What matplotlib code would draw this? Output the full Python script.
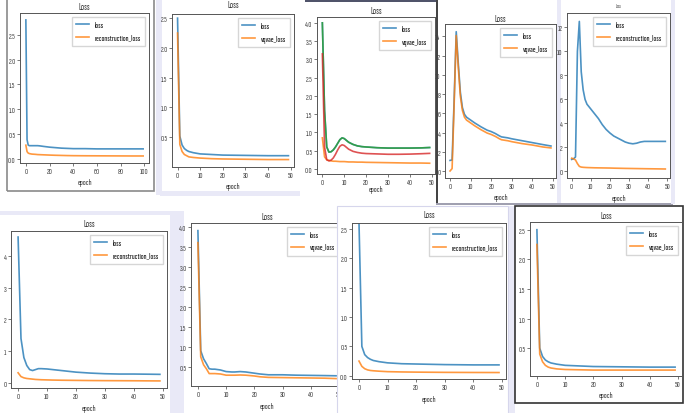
import matplotlib
matplotlib.use("Agg")
import matplotlib.pyplot as plt
from matplotlib.patches import Rectangle

plt.rcParams['font.family'] = ['Sofia Sans Extra Condensed', 'DejaVu Sans']

W, H = 685, 414

# ---------------- data ----------------
# top row
ep1 = [0, 1, 2, 3, 5, 8, 10, 12, 15, 20, 25, 30, 35, 40, 50, 60, 70, 80, 90, 99]
loss1 = [2.80, 0.38, 0.27, 0.26, 0.26, 0.26, 0.26, 0.255, 0.245, 0.23, 0.22, 0.21, 0.205, 0.20, 0.20, 0.195, 0.195, 0.195, 0.195, 0.195]
recon1 = [0.27, 0.14, 0.11, 0.10, 0.09, 0.085, 0.08, 0.078, 0.075, 0.07, 0.066, 0.063, 0.06, 0.058, 0.056, 0.055, 0.054, 0.053, 0.052, 0.052]

ep2 = [0, 1, 2, 3, 4, 5, 7, 10, 15, 20, 30, 40, 49]
loss2 = [2.50, 0.52, 0.37, 0.31, 0.28, 0.26, 0.24, 0.22, 0.21, 0.20, 0.195, 0.19, 0.19]
vq2 = [2.25, 0.38, 0.26, 0.21, 0.19, 0.17, 0.16, 0.15, 0.14, 0.135, 0.13, 0.125, 0.125]

ep3 = [0, 1, 2, 3, 4, 5, 6, 7, 8, 9, 10, 11, 12, 14, 16, 18, 20, 25, 30, 35, 40, 45, 49]
green3 = [4.0, 1.6, 0.6, 0.46, 0.47, 0.52, 0.6, 0.7, 0.8, 0.85, 0.83, 0.78, 0.73, 0.67, 0.63, 0.61, 0.6, 0.58, 0.57, 0.57, 0.57, 0.575, 0.585]
red3 = [3.15, 0.6, 0.25, 0.22, 0.24, 0.3, 0.4, 0.52, 0.62, 0.66, 0.64, 0.59, 0.54, 0.48, 0.45, 0.43, 0.42, 0.41, 0.40, 0.40, 0.405, 0.415, 0.425]
orange3 = [0.85, 0.33, 0.25, 0.23, 0.22, 0.21, 0.21, 0.205, 0.2, 0.2, 0.2, 0.195, 0.19, 0.19, 0.185, 0.185, 0.18, 0.175, 0.17, 0.165, 0.16, 0.16, 0.155]

ep4 = [0, 1, 2, 3, 4, 5, 6, 7, 8, 10, 12, 15, 18, 20, 22, 24, 25, 28, 30, 35, 40, 45, 49]
loss4 = [1.1, 1.15, 7.5, 14.5, 11.2, 8.2, 6.6, 5.9, 5.6, 5.3, 5.0, 4.6, 4.25, 4.1, 3.9, 3.65, 3.55, 3.45, 3.35, 3.15, 2.95, 2.75, 2.6]
vq4 = [0.0, 0.25, 7.0, 14.1, 10.8, 7.8, 6.3, 5.6, 5.3, 5.0, 4.7, 4.3, 3.95, 3.8, 3.6, 3.35, 3.25, 3.15, 3.05, 2.85, 2.7, 2.5, 2.4]

ep5 = [0, 1, 2, 3, 4, 5, 6, 7, 8, 10, 12, 14, 16, 18, 20, 22, 25, 28, 30, 32, 34, 36, 38, 40, 45, 49]
loss5 = [1.0, 1.05, 1.2, 10.0, 12.5, 8.3, 6.8, 6.0, 5.6, 5.2, 4.8, 4.4, 3.9, 3.5, 3.2, 2.95, 2.7, 2.45, 2.35, 2.3, 2.35, 2.45, 2.5, 2.5, 2.5, 2.5]
recon5 = [1.1, 1.05, 0.95, 0.65, 0.42, 0.36, 0.34, 0.33, 0.32, 0.31, 0.3, 0.295, 0.29, 0.285, 0.28, 0.27, 0.26, 0.25, 0.245, 0.24, 0.235, 0.23, 0.225, 0.22, 0.21, 0.2]

# bottom row
ep6 = [0, 1, 2, 3, 4, 5, 6, 7, 8, 10, 12, 15, 18, 20, 25, 30, 35, 40, 45, 49]
loss6 = [4.6, 1.4, 0.8, 0.55, 0.42, 0.39, 0.42, 0.45, 0.45, 0.44, 0.42, 0.39, 0.36, 0.34, 0.31, 0.29, 0.28, 0.28, 0.275, 0.27]
recon6 = [0.32, 0.2, 0.16, 0.14, 0.13, 0.12, 0.11, 0.105, 0.1, 0.095, 0.09, 0.085, 0.082, 0.08, 0.075, 0.072, 0.07, 0.068, 0.065, 0.063]

ep7 = [0, 1, 2, 3, 4, 5, 6, 8, 10, 12, 13, 15, 17, 20, 22, 25, 30, 35, 40, 45, 49]
loss7 = [3.9, 0.9, 0.7, 0.58, 0.45, 0.44, 0.44, 0.42, 0.38, 0.37, 0.37, 0.38, 0.37, 0.34, 0.32, 0.3, 0.3, 0.29, 0.285, 0.28, 0.275]
vq7 = [3.6, 0.75, 0.55, 0.45, 0.33, 0.33, 0.33, 0.32, 0.29, 0.29, 0.29, 0.295, 0.29, 0.27, 0.25, 0.235, 0.23, 0.225, 0.22, 0.215, 0.205]

ep8 = [0, 1, 2, 3, 4, 5, 7, 10, 15, 20, 25, 30, 40, 49]
loss8 = [2.6, 0.5, 0.36, 0.31, 0.28, 0.26, 0.24, 0.22, 0.205, 0.2, 0.195, 0.19, 0.185, 0.185]
recon8 = [0.25, 0.16, 0.12, 0.1, 0.09, 0.085, 0.078, 0.07, 0.065, 0.062, 0.06, 0.058, 0.056, 0.055]

ep9 = [0, 1, 2, 3, 4, 5, 7, 10, 15, 20, 30, 40, 49]
loss9 = [2.5, 0.5, 0.36, 0.3, 0.27, 0.25, 0.23, 0.21, 0.2, 0.19, 0.185, 0.18, 0.18]
vq9 = [2.25, 0.4, 0.27, 0.21, 0.18, 0.165, 0.15, 0.14, 0.135, 0.13, 0.13, 0.13, 0.13]

ticks_50 = [0, 10, 20, 30, 40, 50]
ticks_100 = [0, 20, 40, 60, 80, 100]


fig = plt.figure(figsize=(W / 100, H / 100), dpi=100)
fig.patch.set_facecolor('white')


def frac(x0, y0, x1, y1):
    # pixel box (top-left origin) -> figure fraction [l, b, w, h]
    return [x0 / W, 1 - y1 / H, (x1 - x0) / W, (y1 - y0) / H]


def box(x0, y0, x1, y1, face='none', edge='none', lw=0, z=0.5):
    l, b, w, h = frac(x0, y0, x1, y1)
    fig.patches.append(Rectangle((l, b), w, h, transform=fig.transFigure,
                                 facecolor=face, edgecolor=edge, linewidth=lw, zorder=z))


def panel(px, ylim, yticks, xticks, xlim, title_y, label_y, lines, labels, z=1, title_size=6.8):
    ax = fig.add_axes(frac(*px))
    ax.set_zorder(z)
    for x, y, c in lines:
        ax.plot(x, y, color=c, lw=1.2, alpha=0.8)
    ax.set_xlim(*xlim)
    ax.set_ylim(*ylim)
    ax.set_yticks(yticks)
    ax.set_xticks(xticks)
    ax.tick_params(labelsize=6, length=2, width=0.5, pad=1.2, colors='#444')
    for s in ax.spines.values():
        s.set_color('#555')
        s.set_linewidth(0.7)
    handles = ax.get_lines()[:len(labels)]
    ax.legend(handles, labels, loc='upper right', fontsize=6, handlelength=1.6,
              borderpad=0.5, labelspacing=0.5, handletextpad=0.6,
              edgecolor='#cccccc', fancybox=False)
    cx = (px[0] + px[2]) / 2
    t1 = fig.text(cx / W, 1 - title_y / H, 'Loss', ha='center', va='center',
                  fontsize=title_size, color='#333')
    t2 = fig.text(cx / W, 1 - label_y / H, 'epoch', ha='center', va='center',
                  fontsize=6.2, color='#333')
    t1.set_zorder(z)
    t2.set_zorder(z)
    return ax


blue, orange, green, red = 'tab:blue', 'tab:orange', 'tab:green', 'tab:red'
lav = '#e9e9f7'

# background strips and frames
box(156, 0, 162, 196, face=lav)
box(160, 192, 300, 197, face=lav)
box(7, -5, 154, 192, edge='#8a8a8a', lw=1.2)
box(305, 0.5, 437, 2.5, face='#50546a')
box(436, 0, 438, 206, face='#444444')
box(436, 204, 673, 205.5, face='#a0a0b0')
box(557, 0, 561, 204, face=lav)
box(671, 0, 675, 205, face=lav)
box(0, 212, 172, 216, face=lav)
box(170, 212, 184, 414, face=lav)

ax1 = panel((20, 14, 149, 164), (-0.09, 2.94), [0, 0.5, 1.0, 1.5, 2.0, 2.5], ticks_100, (-4.95, 103.95), 7, 183,
            [(ep1, loss1, blue), (ep1, recon1, orange)], ['loss', 'reconstruction_loss'])
ax2 = panel((172, 15, 294, 168), (0.0, 2.57), [0.5, 1.0, 1.5, 2.0, 2.5], ticks_50, (-2.45, 51.45), 5, 187,
            [(ep2, loss2, blue), (ep2, vq2, orange)], ['loss', 'vqvae_loss'])
ax3 = panel((317, 18, 435, 175), (-0.14, 4.16), [0, 0.5, 1.0, 1.5, 2.0, 2.5, 3.0, 3.5, 4.0], ticks_50, (-2.45, 51.45), 12, 190,
            [(ep3, green3, blue), (ep3, orange3, orange), (ep3, green3, green), (ep3, red3, red)],
            ['loss', 'vqvae_loss'])
ax4 = panel((445, 25, 556, 179), (-0.73, 15.3), [0, 2, 4, 6, 8, 10, 12, 14], ticks_50, (-2.45, 51.45), 19, 198,
            [(ep4, loss4, blue), (ep4, vq4, orange)], ['loss', 'vqvae_loss'])
ax5 = panel((567, 14, 670, 179), (-0.55, 13.2), [0, 2, 4, 6, 8, 10, 12], ticks_50, (-2.45, 51.45), 6, 199,
            [(ep5, loss5, blue), (ep5, recon5, orange)], ['loss', 'reconstruction_loss'], title_size=3.5)

ax6 = panel((11, 232, 167, 389), (-0.16, 4.79), [0, 1, 2, 3, 4], ticks_50, (-2.45, 51.45), 225, 409,
            [(ep6, loss6, blue), (ep6, recon6, orange)], ['loss', 'reconstruction_loss'])
ax7 = panel((191, 224, 343, 387), (0.02, 4.09), [0.5, 1.0, 1.5, 2.0, 2.5, 3.0, 3.5, 4.0], ticks_50, (-2.45, 51.45), 218, 407,
            [(ep7, loss7, blue), (ep7, vq7, orange)], ['loss', 'vqvae_loss'])

box(337, 207, 508, 416, face='white', edge='#d6d6ec', lw=0.8, z=2)
box(508.5, 207, 514.5, 416, face=lav, z=2)
box(515, 207, 683, 404, face='white', edge='#333333', lw=1.2, z=2)

ax8 = panel((352, 224, 506, 380), (-0.055, 2.6), [0, 0.5, 1.0, 1.5, 2.0, 2.5], ticks_50, (-2.45, 51.45), 216, 400,
            [(ep8, loss8, blue), (ep8, recon8, orange)], ['loss', 'reconstruction_loss'], z=3)
ax9 = panel((530, 223, 682, 377), (0.03, 2.63), [0.5, 1.0, 1.5, 2.0, 2.5], ticks_50, (-2.45, 51.45), 217, 396,
            [(ep9, loss9, blue), (ep9, vq9, orange)], ['loss', 'vqvae_loss'], z=3)

fig.savefig('out.png', dpi=100)
